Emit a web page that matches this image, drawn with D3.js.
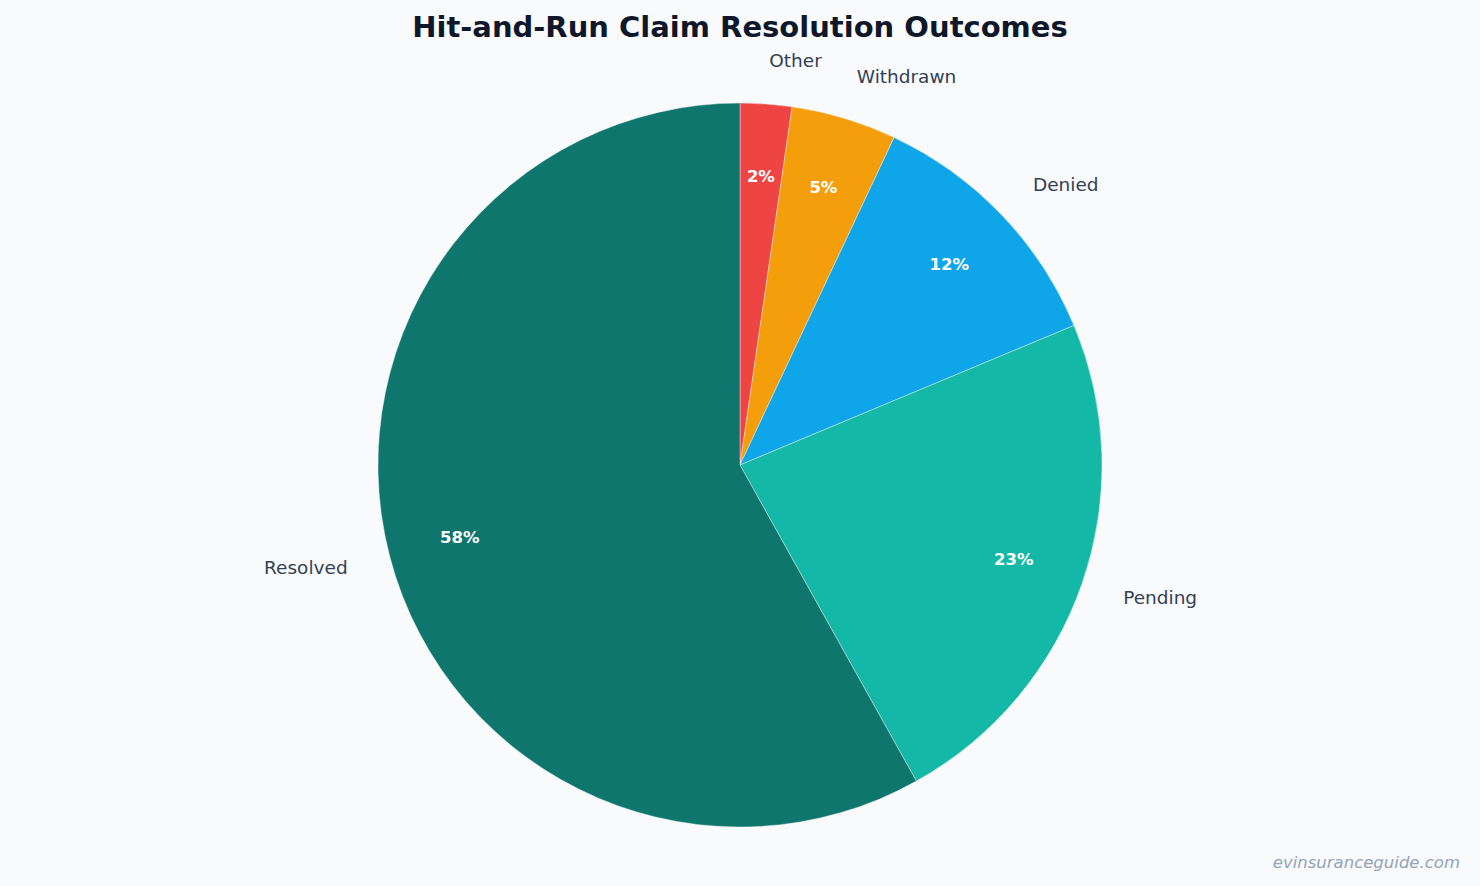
<!DOCTYPE html>
<html><head><meta charset="utf-8">
<script src="https://cdn.jsdelivr.net/npm/d3@7"></script>
<style>html,body{margin:0;padding:0;background:#f8fafc;}svg{display:block;}</style>
</head><body>
<svg id="chart" width="1480" height="886"></svg>
<script>
const categories = ["Other", "Withdrawn", "Denied", "Pending", "Resolved"];
const values = [2.3, 4.7, 11.7, 23.2, 58.1];
const colors = ["#ef4444", "#f59e0b", "#0ea5e9", "#14b8a6", "#0f766e"];
const title = "Hit-and-Run Claim Resolution Outcomes";
const watermark = "evinsuranceguide.com";

const W = 1480, H = 886;
const cx = 740, cy = 465, R = 362;
const svg = d3.select("#chart");
svg.append("rect").attr("width", W).attr("height", H).attr("fill", "#f8fafc");

const total = d3.sum(values);
const data = categories.map((c, i) => ({cat: c, value: values[i], color: colors[i]}));
const pie = d3.pie().sort(null).value(d => d.value);
const arcs = pie(data);
const arc = d3.arc().innerRadius(0).outerRadius(R);
const g = svg.append("g").attr("transform", `translate(${cx},${cy})`);

g.selectAll("path.slice").data(arcs).enter().append("path")
  .attr("class", "slice")
  .attr("d", arc)
  .attr("fill", d => d.data.color)
  .attr("stroke", "#f8fafc").attr("stroke-width", 0.4);

const labelR = R * 1.12, pctR = R * 0.8;
arcs.forEach(a => {
  const m = (a.startAngle + a.endAngle) / 2;
  const x = Math.sin(m) * labelR, y = -Math.cos(m) * labelR;
  g.append("text").attr("x", x).attr("y", y)
    .attr("text-anchor", x >= 0 ? "start" : "end")
    .attr("dominant-baseline", "central")
    .attr("font-family", "DejaVu Sans")
    .attr("font-size", 18.5)
    .attr("fill", "#334155")
    .text(a.data.cat);
  const px = Math.sin(m) * pctR, py = -Math.cos(m) * pctR;
  g.append("text").attr("x", px).attr("y", py)
    .attr("text-anchor", "middle")
    .attr("dominant-baseline", "central")
    .attr("font-family", "DejaVu Sans")
    .attr("font-weight", "bold")
    .attr("font-size", 16.5)
    .attr("fill", "#ffffff")
    .text(Math.round(a.data.value / total * 100) + "%");
});

svg.append("text").attr("x", 740).attr("y", 27)
  .attr("text-anchor", "middle").attr("dominant-baseline", "central")
  .attr("font-family", "DejaVu Sans").attr("font-weight", "bold")
  .attr("font-size", 29).attr("fill", "#0f172a")
  .text(title);

svg.append("text").attr("x", 1460).attr("y", 862)
  .attr("text-anchor", "end").attr("dominant-baseline", "central")
  .attr("font-family", "DejaVu Sans").attr("font-style", "italic")
  .attr("font-size", 16.5).attr("fill", "#94a3b8")
  .text(watermark);
</script>
</body></html>
